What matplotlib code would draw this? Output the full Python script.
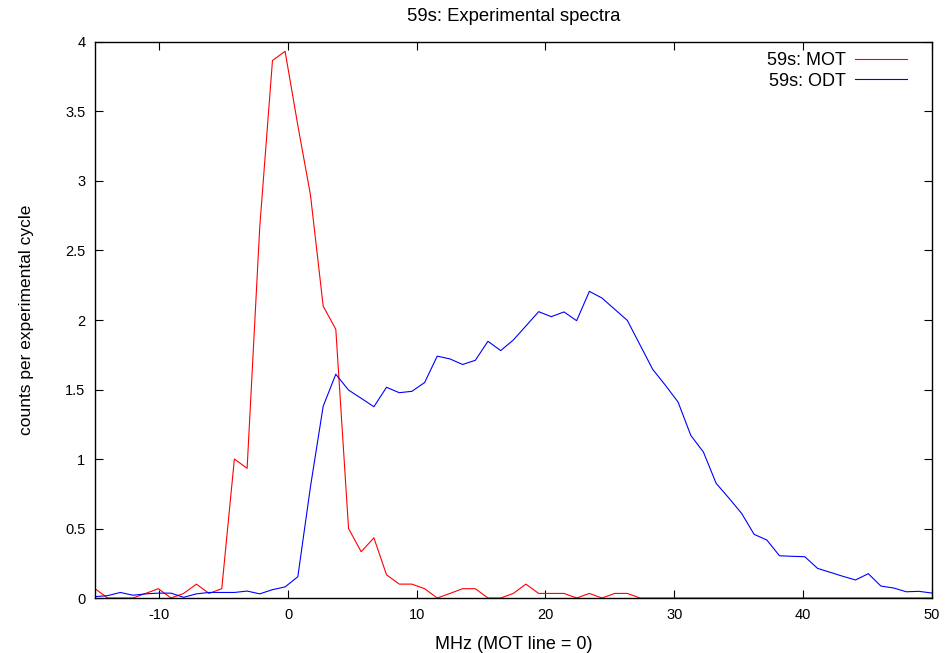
import matplotlib.pyplot as plt
import numpy as np

plt.rcParams['font.family'] = ['Liberation Sans', 'DejaVu Sans']
plt.rcParams['font.size'] = 10.5
plt.rcParams['axes.unicode_minus'] = False

# frequency axis (MHz, MOT line = 0)
mhz = [-15.00, -14.02, -13.03, -12.05, -11.06, -10.08, -9.09, -8.11, -7.12, -6.14,
       -5.15, -4.17, -3.18, -2.20, -1.21, -0.23, 0.76, 1.74, 2.73, 3.71,
       4.70, 5.68, 6.67, 7.65, 8.64, 9.62, 10.61, 11.59, 12.58, 13.56,
       14.55, 15.53, 16.52, 17.50, 18.48, 19.47, 20.45, 21.44, 22.42, 23.41,
       24.39, 25.38, 26.36, 27.35, 28.33, 29.32, 30.30, 31.29, 32.27, 33.26,
       34.24, 35.23, 36.21, 37.20, 38.18, 39.17, 40.15, 41.14, 42.12, 43.11,
       44.09, 45.08, 46.06, 47.05, 48.03, 49.02, 50.00]

mot = [0.067, 0.0, 0.0, 0.0, 0.033, 0.067, 0.0, 0.033, 0.1, 0.033,
       0.067, 1.0, 0.933, 2.667, 3.867, 3.933, 3.4, 2.9, 2.1, 1.933,
       0.5, 0.333, 0.433, 0.167, 0.1, 0.1, 0.067, 0.0, 0.033, 0.067,
       0.067, 0.0, 0.0, 0.033, 0.1, 0.033, 0.033, 0.033, 0.0, 0.033,
       0.0, 0.033, 0.033, 0.0, 0.0, 0.0, 0.0, 0.0, 0.0, 0.0,
       0.0, 0.0, 0.0, 0.0, 0.0, 0.0, 0.0, 0.0, 0.0, 0.0,
       0.0, 0.0, 0.0, 0.0, 0.0, 0.0, 0.0]

odt = [0.01, 0.017, 0.04, 0.02, 0.03, 0.035, 0.035, 0.005, 0.03, 0.04,
       0.04, 0.04, 0.05, 0.03, 0.06, 0.08, 0.153, 0.8, 1.38, 1.61,
       1.496, 1.437, 1.376, 1.516, 1.477, 1.487, 1.55, 1.74, 1.72, 1.68,
       1.71, 1.847, 1.78, 1.856, 1.957, 2.06, 2.024, 2.058, 1.995, 2.206,
       2.158, 2.077, 1.997, 1.82, 1.645, 1.53, 1.41, 1.17, 1.05, 0.825,
       0.72, 0.61, 0.458, 0.417, 0.304, 0.30, 0.297, 0.213, 0.185, 0.156,
       0.13, 0.175, 0.086, 0.072, 0.045, 0.048, 0.036]

fig = plt.figure(figsize=(9.46, 6.53), dpi=100)
ax = fig.add_axes([0.1004, 0.0842, 0.8844, 0.8515])

ax.plot(mhz, mot, color='#ff0000', lw=0.8, label='59s: MOT')
ax.plot(mhz, odt, color='#0000ff', lw=0.8, label='59s: ODT')

ax.set_xlim(-15, 50)
ax.set_ylim(0, 4)
ax.set_xticks([-10, 0, 10, 20, 30, 40, 50])
ax.set_yticks(np.arange(0, 4.01, 0.5))
ax.set_yticklabels(['0', '0.5', '1', '1.5', '2', '2.5', '3', '3.5', '4'])
ax.tick_params(direction='in', top=True, right=True, length=6, width=0.8, pad=7)
for s in ax.spines.values():
    s.set_linewidth(1.0)

ax.set_title('59s: Experimental spectra', pad=15, fontsize=13.3)
ax.set_xlabel('MHz (MOT line = 0)', labelpad=10, fontsize=13)
ax.set_ylabel('counts per experimental cycle', labelpad=22, fontsize=12.5)

ax.legend(loc='upper right', bbox_to_anchor=(0.983, 1.0), frameon=False,
          markerfirst=False, handlelength=2.9, handletextpad=0.5,
          labelspacing=0.2, borderaxespad=0.15, fontsize=13)

plt.savefig('out.png')
